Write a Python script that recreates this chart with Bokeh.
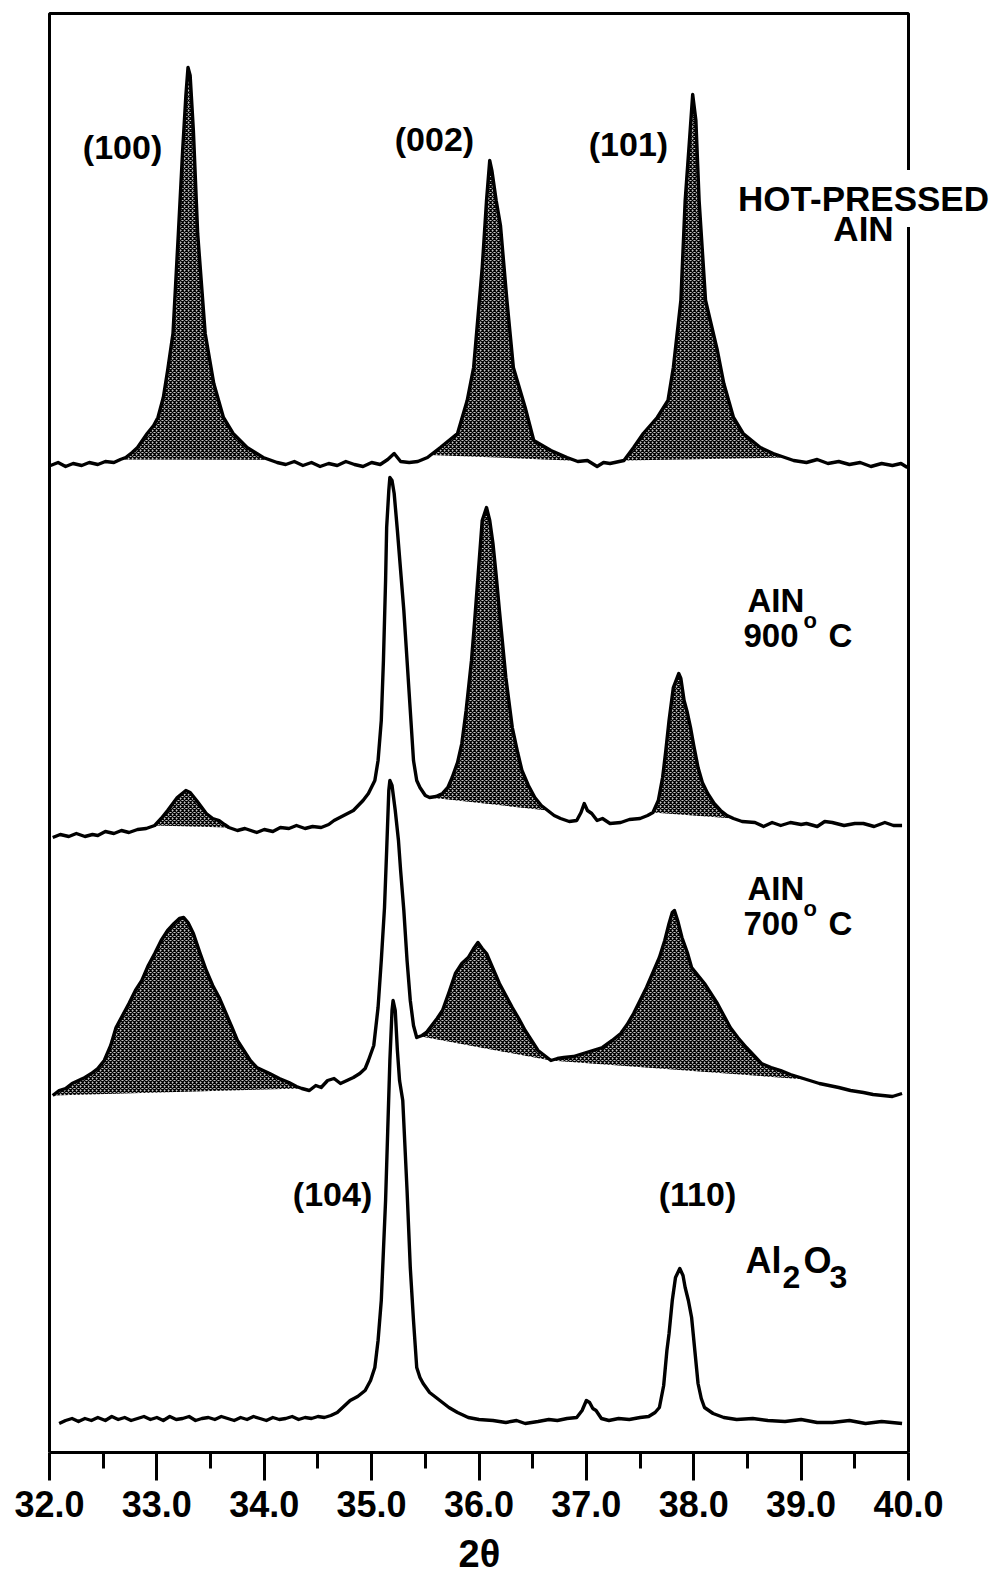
import numpy as np
from bokeh.plotting import figure
from bokeh.models import Range1d, FixedTicker, Label, BoxAnnotation, Title
from bokeh.embed import file_html
from bokeh.resources import INLINE

# ---------------- data ----------------
X_TICKS = [32.0, 33.0, 34.0, 35.0, 36.0, 37.0, 38.0, 39.0, 40.0]
X_MINOR = [32.5, 33.5, 34.5, 35.5, 36.5, 37.5, 38.5, 39.5]
TICK_LABELS = ["32.0", "33.0", "34.0", "35.0", "36.0", "37.0", "38.0", "39.0", "40.0"]

# Hot-pressed AlN
hp_x = [32.01, 32.08, 32.15, 32.22, 32.30, 32.37, 32.45, 32.52, 32.60, 32.66, 32.71, 32.77, 32.82, 32.91,
        32.97, 33.01, 33.06, 33.10, 33.15, 33.20, 33.24, 33.27, 33.29, 33.31, 33.34, 33.38, 33.45, 33.53,
        33.62, 33.71, 33.84, 33.99, 34.12, 34.20, 34.28, 34.36, 34.44, 34.52, 34.60, 34.68, 34.76, 34.84,
        34.92, 35.00, 35.08, 35.15, 35.21, 35.27, 35.35, 35.43, 35.52, 35.64, 35.80, 35.89, 35.95, 36.03,
        36.07, 36.10, 36.12, 36.16, 36.20, 36.26, 36.32, 36.43, 36.51, 36.67, 36.82, 36.92, 37.01, 37.10,
        37.16, 37.22, 37.35, 37.44, 37.53, 37.66, 37.76, 37.81, 37.88, 37.92, 37.96, 37.99, 38.02, 38.05,
        38.11, 38.22, 38.28, 38.37, 38.46, 38.62, 38.74, 38.93, 39.05, 39.15, 39.25, 39.35, 39.45, 39.55,
        39.65, 39.75, 39.85, 39.93, 39.99]
hp_i = [2, 5, 1, 4, 2, 5, 3, 6, 5, 8, 10, 15, 20, 34,
        42, 50, 70, 97, 134, 234, 317, 372, 400, 392, 337, 234, 134, 84,
        50, 34, 20, 10, 5, 3, 6, 2, 5, 1, 4, 2, 6, 3,
        1, 5, 3, 8, 14, 6, 5, 6, 10, 20, 34, 67, 100, 200,
        267, 307, 297, 267, 242, 167, 100, 60, 27, 17, 10, 6, 7, 1,
        5, 4, 7, 20, 34, 50, 67, 100, 167, 267, 327, 373, 347, 267,
        167, 117, 84, 50, 34, 20, 14, 7, 5, 8, 4, 6, 3, 5,
        1, 4, 2, 4, 0]

# AlN 900 C
a9_x = [32.03, 32.10, 32.18, 32.25, 32.33, 32.40, 32.45, 32.52, 32.60, 32.67, 32.74, 32.82, 32.90, 32.98,
        33.04, 33.10, 33.19, 33.27, 33.31, 33.37, 33.46, 33.52, 33.58, 33.63, 33.67, 33.75, 33.82, 33.93,
        34.00, 34.08, 34.15, 34.23, 34.30, 34.38, 34.45, 34.53, 34.60, 34.65, 34.74, 34.83, 34.92, 34.97,
        35.03, 35.06, 35.09, 35.11, 35.13, 35.14, 35.16, 35.17, 35.19, 35.21, 35.24, 35.27, 35.30, 35.33,
        35.36, 35.39, 35.42, 35.45, 35.50, 35.54, 35.60, 35.66, 35.71, 35.75, 35.80, 35.84, 35.88, 35.93,
        35.96, 35.99, 36.03, 36.07, 36.10, 36.13, 36.16, 36.19, 36.25, 36.31, 36.36, 36.40, 36.46, 36.52,
        36.58, 36.64, 36.70, 36.76, 36.84, 36.91, 36.95, 36.98, 37.01, 37.05, 37.10, 37.15, 37.22, 37.32,
        37.40, 37.50, 37.57, 37.62, 37.67, 37.71, 37.74, 37.77, 37.81, 37.86, 37.88, 37.91, 37.94, 37.97,
        38.00, 38.04, 38.08, 38.13, 38.19, 38.25, 38.31, 38.37, 38.45, 38.57, 38.65, 38.73, 38.81, 38.90,
        39.00, 39.05, 39.15, 39.22, 39.29, 39.40, 39.50, 39.58, 39.68, 39.78, 39.86, 39.94]
a9_i = [0, 3, 1, 4, 1, 3, 2, 6, 4, 7, 5, 8, 9, 12,
        19, 27, 40, 47, 45, 37, 24, 19, 17, 13, 10, 7, 9, 5,
        8, 6, 10, 9, 12, 9, 11, 10, 13, 17, 22, 27, 37, 44,
        57, 77, 117, 177, 257, 310, 347, 360, 357, 344, 307, 267, 227, 177,
        127, 77, 57, 50, 42, 40, 41, 44, 50, 60, 75, 94, 127, 177,
        217, 260, 317, 330, 317, 294, 262, 227, 160, 110, 85, 67, 52, 40,
        32, 27, 22, 19, 16, 17, 25, 34, 27, 24, 17, 19, 14, 15,
        18, 19, 22, 25, 37, 60, 87, 117, 150, 164, 159, 137, 125, 110,
        92, 70, 55, 44, 34, 27, 22, 19, 16, 15, 11, 15, 12, 15,
        13, 14, 11, 16, 15, 12, 14, 14, 11, 15, 12, 12]

# AlN 700 C
a7_x = [32.03, 32.09, 32.15, 32.21, 32.27, 32.33, 32.39, 32.45, 32.51, 32.57, 32.62, 32.68, 32.74, 32.80,
        32.86, 32.92, 32.98, 33.04, 33.10, 33.16, 33.21, 33.25, 33.29, 33.34, 33.40, 33.46, 33.52, 33.58,
        33.64, 33.70, 33.75, 33.81, 33.87, 33.93, 33.99, 34.05, 34.14, 34.23, 34.30, 34.35, 34.42, 34.48,
        34.53, 34.59, 34.65, 34.71, 34.77, 34.83, 34.89, 34.94, 34.97, 35.02, 35.06, 35.09, 35.12, 35.14,
        35.16, 35.17, 35.19, 35.22, 35.25, 35.27, 35.30, 35.33, 35.36, 35.39, 35.42, 35.47, 35.51, 35.56,
        35.61, 35.66, 35.72, 35.78, 35.84, 35.90, 35.95, 35.99, 36.03, 36.07, 36.13, 36.19, 36.25, 36.31,
        36.37, 36.43, 36.49, 36.55, 36.61, 36.67, 36.73, 36.79, 36.88, 36.97, 37.06, 37.15, 37.24, 37.32,
        37.38, 37.44, 37.50, 37.56, 37.62, 37.68, 37.73, 37.77, 37.80, 37.82, 37.85, 37.89, 37.94, 37.98,
        38.04, 38.10, 38.16, 38.22, 38.28, 38.34, 38.41, 38.49, 38.56, 38.63, 38.72, 38.81, 38.90, 38.99,
        39.08, 39.17, 39.26, 39.35, 39.46, 39.58, 39.67, 39.76, 39.85, 39.94]
a7_i = [1, 6, 8, 13, 16, 19, 23, 28, 36, 51, 69, 81, 93, 106,
        116, 131, 143, 156, 166, 173, 178, 179, 174, 163, 144, 126, 111, 99,
        84, 69, 56, 46, 36, 29, 26, 23, 18, 14, 10, 8, 6, 11,
        9, 16, 18, 13, 16, 19, 23, 28, 36, 51, 89, 136, 189, 246,
        306, 316, 311, 286, 256, 226, 186, 136, 96, 71, 59, 61, 64, 71,
        78, 86, 104, 123, 133, 139, 148, 154, 148, 143, 128, 113, 101, 89,
        78, 66, 56, 46, 41, 36, 38, 39, 40, 43, 46, 49, 56, 63,
        72, 83, 96, 109, 124, 139, 156, 173, 184, 186, 176, 159, 144, 129,
        121, 113, 103, 93, 81, 69, 59, 49, 41, 33, 29, 26, 22, 19,
        16, 13, 11, 9, 6, 4, 2, 1, 0, 3]

# Al2O3
al_x = [32.09, 32.15, 32.21, 32.27, 32.33, 32.39, 32.45, 32.52, 32.58, 32.64, 32.70, 32.76, 32.82, 32.88,
        32.94, 33.00, 33.06, 33.12, 33.18, 33.24, 33.30, 33.36, 33.42, 33.48, 33.54, 33.60, 33.66, 33.72,
        33.78, 33.84, 33.90, 33.96, 34.02, 34.08, 34.14, 34.20, 34.26, 34.32, 34.38, 34.44, 34.50, 34.56,
        34.62, 34.68, 34.74, 34.80, 34.87, 34.94, 34.99, 35.03, 35.06, 35.09, 35.11, 35.13, 35.15, 35.17,
        35.19, 35.20, 35.22, 35.24, 35.26, 35.29, 35.33, 35.36, 35.39, 35.42, 35.45, 35.48, 35.54, 35.60,
        35.66, 35.72, 35.80, 35.90, 36.00, 36.13, 36.25, 36.35, 36.43, 36.55, 36.65, 36.73, 36.82, 36.91,
        36.96, 37.00, 37.03, 37.06, 37.09, 37.14, 37.21, 37.30, 37.40, 37.50, 37.58, 37.64, 37.68, 37.72,
        37.75, 37.77, 37.80, 37.83, 37.87, 37.90, 37.92, 37.95, 37.98, 38.01, 38.04, 38.07, 38.10, 38.18,
        38.28, 38.40, 38.55, 38.69, 38.85, 39.00, 39.15, 39.29, 39.45, 39.60, 39.75, 39.94]
al_i = [1, 4, 6, 3, 6, 4, 7, 4, 8, 5, 7, 4, 6, 8,
        5, 7, 4, 8, 5, 6, 8, 4, 6, 7, 5, 8, 6, 4,
        7, 5, 8, 6, 4, 7, 5, 6, 8, 5, 7, 6, 8, 7,
        9, 12, 18, 24, 28, 34, 44, 57, 84, 124, 174, 224, 294, 364,
        414, 424, 414, 374, 344, 324, 234, 157, 104, 57, 47, 41, 32, 27,
        22, 17, 12, 7, 5, 4, 2, 4, 1, 3, 5, 4, 6, 7,
        14, 24, 22, 16, 14, 6, 4, 6, 5, 7, 8, 12, 17, 39,
        74, 91, 124, 147, 156, 149, 137, 124, 107, 74, 41, 26, 17, 11,
        7, 5, 6, 4, 3, 5, 2, 2, 4, 1, 3, 1]

# vertical stacking offsets of the four patterns
OFFSETS = {"hp": 985, "a9": 615, "a7": 356, "al": 28}

# shaded (hatched) AlN reflections: (start 2θ, end 2θ)
HATCH = {
    "hp": [(32.66, 34.05), (35.55, 36.90), (37.35, 38.85)],
    "a9": [(32.98, 33.67), (35.54, 36.64), (37.62, 38.37)],
    "a7": [(32.03, 34.35), (35.45, 36.67), (36.67, 39.05)],
    "al": [],
}

SERIES = {"hp": (hp_x, hp_i), "a9": (a9_x, a9_i), "a7": (a7_x, a7_i), "al": (al_x, al_i)}

# ---------------- figure ----------------
FONT = "Liberation Sans"
PX_PER_DEG = 107.375
LEFT, TOP, BOTTOM = 47, 11, 137
W, H = 1001, 1589
x0 = 32 - 2 / PX_PER_DEG
x_end = x0 + (W - LEFT) / PX_PER_DEG
FRAME_TOP = 1439

p = figure(width=W, height=H, x_range=Range1d(x0, x_end), y_range=Range1d(0, H - TOP - BOTTOM),
           min_border_left=LEFT, min_border_right=0, min_border_top=TOP, min_border_bottom=BOTTOM,
           output_backend="svg", toolbar_location=None)
p.background_fill_color = "white"
p.border_fill_color = "white"
p.outline_line_color = None
p.grid.visible = False
p.yaxis.visible = False

ax = p.xaxis[0]
ax.bounds = (32, 40)
ax.ticker = FixedTicker(ticks=X_TICKS, minor_ticks=X_MINOR)
ax.major_label_overrides = {t: l for t, l in zip(X_TICKS, TICK_LABELS)}
ax.axis_line_width = 3
ax.major_tick_line_width = 3
ax.minor_tick_line_width = 3
ax.major_tick_out = 28
ax.major_tick_in = 0
ax.minor_tick_out = 16
ax.minor_tick_in = 0
ax.major_label_text_font = FONT
ax.major_label_text_font_style = "bold"
ax.major_label_text_font_size = "36px"
ax.major_label_text_color = "black"
ax.major_label_standoff = 10

# axis title "2θ" (placed as a below-title so it can sit off-centre like the original)
p.add_layout(Title(text="2θ", align="left", offset=411, text_font=FONT, text_font_style="bold",
                   text_font_size="38px", text_color="black", standoff=22), "below")

# plot box
p.add_layout(BoxAnnotation(left=32, right=40, bottom=0, top=FRAME_TOP, fill_color=None,
                           line_color="black", line_alpha=1.0, line_width=3))

for key, (xs, ys) in SERIES.items():
    x = np.array(xs, dtype=float)
    y = np.array(ys, dtype=float) + OFFSETS[key]
    for (a, b) in HATCH[key]:
        ya = np.interp(a, x, y)
        yb = np.interp(b, x, y)
        m = (x > a) & (x < b)
        px = np.concatenate([[a], x[m], [b]])
        py = np.concatenate([[ya], y[m], [yb]])
        p.patch(px, py, fill_color="#c4c4c4", line_alpha=0,
                hatch_pattern="diagonal_cross", hatch_color="black",
                hatch_scale=4, hatch_weight=1.3)
    p.line(x, y, line_color="black", line_width=3.4, line_join="round")


def lab(x, y, text, size, align="left", **kw):
    p.add_layout(Label(x=x, y=y, text=text, text_font=FONT, text_font_style="bold",
                       text_font_size=size, text_color="black", text_align=align,
                       text_baseline="alphabetic", **kw))


lab(32.68, 1306, "(100)", "34px", "center")
lab(35.585, 1314, "(002)", "34px", "center")
lab(37.392, 1309, "(101)", "34px", "center")
lab(39.581, 1254, "HOT-PRESSED", "35px", "center", background_fill_color="white", padding=9)
lab(39.581, 1224, "AIN", "35px", "center")

lab(38.50, 852, "AIN", "33px")
lab(38.463, 817, "900", "33px")
lab(39.022, 832, "o", "22px")
lab(39.255, 817, "C", "33px")

lab(38.50, 564, "AIN", "33px")
lab(38.463, 529, "700", "33px")
lab(39.022, 544, "o", "22px")
lab(39.255, 529, "C", "33px")

lab(34.636, 259, "(104)", "34px", "center")
lab(38.035, 259, "(110)", "34px", "center")
lab(38.482, 192, "Al", "36px")
lab(38.827, 176, "2", "32px")
lab(39.022, 192, "O", "36px")
lab(39.264, 176, "3", "32px")

open("out.html", "w").write(file_html(p, INLINE))
